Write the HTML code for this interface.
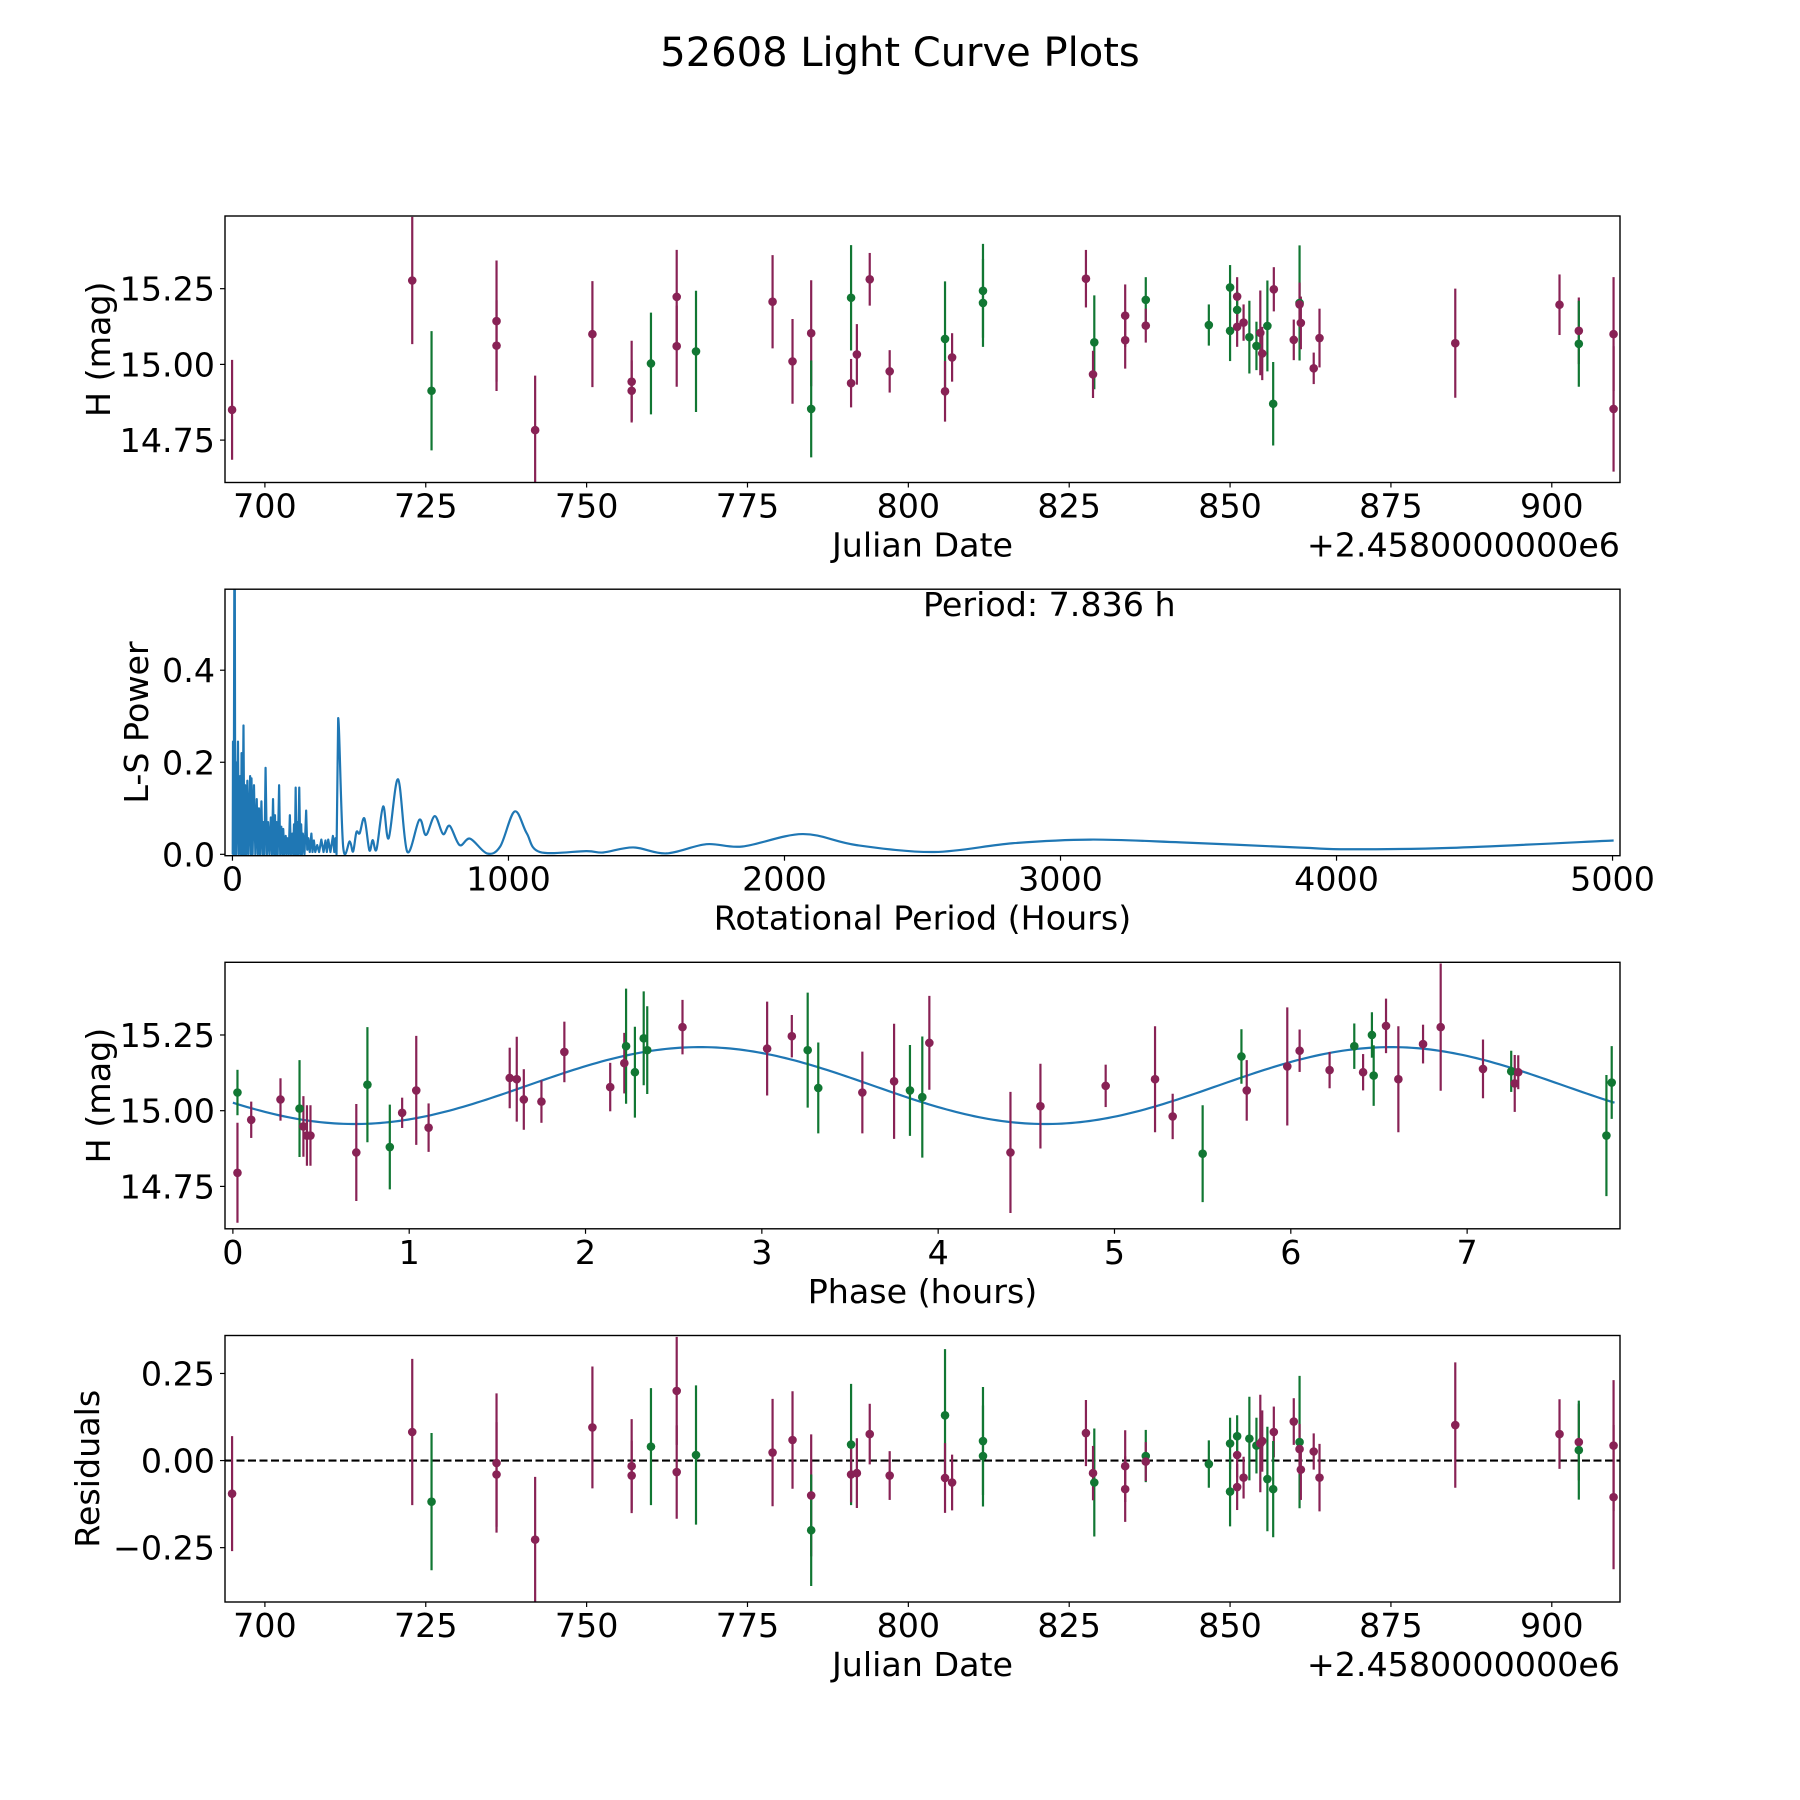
<!DOCTYPE html>
<html><head><meta charset="utf-8">
<style>
html,body{margin:0;padding:0;background:#fff;}
svg{display:block;}
text{font-family:"DejaVu Sans","Liberation Sans",sans-serif;fill:#000;}
</style></head>
<body>
<svg id="fig" xmlns="http://www.w3.org/2000/svg" width="1800" height="1800" viewBox="0 0 1800 1800">
<rect x="0" y="0" width="1800" height="1800" fill="#fff"/>
<text x="900" y="66" font-size="40" text-anchor="middle">52608 Light Curve Plots</text>
</svg>
<script>
// ---------- Panel 1: raw light curve ----------
const lcDates = [694.9,722.9,725.9,736,736,742,750.9,757,757,760,764,764,767,778.9,782,784.9,784.9,791.1,791.1,792,794,797.1,
805.7,805.7,806.8,811.6,811.6,827.6,828.9,828.7,833.7,833.7,836.9,836.9,846.7,850,850,851.1,851.1,851.1,852.1,853,854.1,854.7,855,855.8,856.8,856.7,859.9,860.8,860.8,861,863,863.9,885,901.2,904.2,904.2,909.6,909.6];
const lcMags = [14.85,15.277,14.913,15.143,15.062,14.783,15.1,14.943,14.913,15.003,15.223,15.06,15.043,15.207,15.01,15.103,14.853,15.22,14.938,15.033,15.281,14.977,
15.084,14.911,15.023,15.243,15.203,15.283,15.073,14.967,15.161,15.08,15.213,15.128,15.13,15.254,15.111,15.224,15.18,15.124,15.138,15.09,15.061,15.104,15.036,15.127,15.248,14.87,15.081,15.203,15.198,15.137,14.987,15.087,15.07,15.197,15.111,15.068,15.1,14.853];
const lcErrs = [0.165,0.21,0.197,0.2,0.15,0.18,0.175,0.135,0.1,0.168,0.155,0.134,0.2,0.154,0.14,0.175,0.16,0.174,0.08,0.1,0.087,0.07,
0.19,0.1,0.08,0.155,0.145,0.095,0.155,0.078,0.103,0.094,0.075,0.056,0.068,0.074,0.1,0.064,0.06,0.066,0.06,0.12,0.08,0.14,0.088,0.15,0.073,0.138,0.067,0.19,0.072,0.087,0.052,0.097,0.18,0.1,0.11,0.142,0.188,0.207];
const lcBands = ["p","p","g","p","p","p","p","p","p","g","p","p","g","p","p","p","g","g","p","p","p","p",
"g","p","p","g","g","p","g","p","p","p","g","p","g","g","g","p","g","p","p","g","g","p","p","g","p","g","p","g","p","p","p","p","p","p","p","g","p","p"];

// ---------- Panel 2: periodogram ----------
const lsPeriods = [1,2,3,5,7.836,10,12,14,17,20,
23,28,31,33,36,40,43,46,50,54,
58,64,67,69,73,78,83,88,92,96,
100,105,109,112,116,120,125,129,134,139,
143,147,151,154,157,160,164,169,173,177,
181,184,188,193,196,199,204,208,212,217,
220,223,226,229,232,235,238,242,246,249,
252,255,261,267,271,275,280,286,290,295,
300,307,314,322,330,337,342,347,355,364,
369,373,377,383,401,425,437,449,461,478,
496,508,522,546,566,600,633,677,701,733,
763,787,823,861,922,970,1022,1066,1114,1283,
1343,1452,1572,1717,1848,2065,2261,2543,2826,3109,
3435,3870,4043,4413,5004];
const lsPowers = [0.0,0.245,0.0,0.1,0.9,0.0,0.2,0.0,0.1,0.245,
0.0,0.17,0.0,0.22,0.0,0.28,0.0,0.15,0.0,0.16,
0.0,0.17,0.0,0.165,0.0,0.15,0.0,0.12,0.0,0.1,
0.0,0.115,0.0,0.07,0.0,0.188,0.0,0.07,0.0,0.08,
0.0,0.12,0.0,0.085,0.0,0.07,0.0,0.15,0.0,0.06,
0.0,0.055,0.0,0.04,0.0,0.035,0.0,0.085,0.0,0.045,
0.0,0.065,0.0,0.145,0.0,0.07,0.0,0.145,0.0,0.065,
0.0,0.045,0.0,0.095,0.01,0.035,0.005,0.045,0.005,0.03,
0.005,0.02,0.005,0.032,0.005,0.03,0.005,0.032,0.005,0.04,
0.005,0.035,0.0,0.296,0.017,0.028,0.006,0.048,0.046,0.078,
0.009,0.031,0.011,0.104,0.035,0.163,0.006,0.075,0.042,0.083,
0.044,0.062,0.02,0.034,0.002,0.017,0.093,0.046,0.005,0.007,
0.004,0.015,0.002,0.022,0.017,0.044,0.02,0.005,0.024,0.032,
0.026,0.0145,0.011,0.014,0.03];
const bestPeriodLabel = "Period: 7.836 h";

// ---------- Panel 3: phased light curve ----------
const phPhases = [0.026,0.026,0.104,0.27,0.378,0.40,0.42,0.44,0.70,0.763,0.89,0.96,1.04,1.11,1.57,1.61,1.65,1.75,1.88,2.14,
2.22,2.23,2.28,2.33,2.35,2.55,3.03,3.17,3.26,3.32,3.57,3.75,3.84,3.91,3.95,4.41,4.58,4.95,5.23,5.33,
5.5,5.72,5.75,5.98,6.05,6.22,6.36,6.41,6.46,6.47,6.54,6.61,6.75,6.85,7.09,7.25,7.27,7.29,7.79,7.82];
const phMags = [15.06,14.795,14.97,15.037,15.007,14.948,14.918,14.918,14.862,15.086,14.88,14.993,15.067,14.944,15.108,15.104,15.037,15.03,15.194,15.078,
15.157,15.213,15.127,15.239,15.2,15.276,15.205,15.246,15.2,15.075,15.06,15.097,15.067,15.045,15.224,14.862,15.015,15.082,15.104,14.981,
14.858,15.179,15.067,15.146,15.198,15.134,15.213,15.127,15.25,15.116,15.28,15.104,15.22,15.276,15.138,15.13,15.09,15.127,14.918,15.093];
const phErrs = [0.075,0.165,0.06,0.07,0.16,0.1,0.1,0.1,0.16,0.19,0.14,0.05,0.18,0.08,0.1,0.14,0.1,0.07,0.1,0.08,
0.1,0.19,0.15,0.155,0.145,0.09,0.155,0.07,0.19,0.15,0.135,0.19,0.15,0.2,0.155,0.2,0.14,0.07,0.175,0.075,
0.16,0.09,0.1,0.195,0.07,0.06,0.075,0.06,0.075,0.1,0.09,0.175,0.064,0.21,0.097,0.068,0.094,0.056,0.2,0.12];
const phBands = ["g","p","p","p","g","p","p","p","p","g","g","p","p","p","p","p","p","p","p","p",
"p","g","g","g","g","p","p","p","g","g","p","p","g","g","p","p","p","p","p","p",
"g","g","p","p","p","p","g","p","g","g","p","p","p","p","p","g","p","p","g","g"];
// fitted model: [mean, amplitude, phase of maximum, period, harmonics]
const modelParams = [15.083, 0.127, 2.65, 7.836, 2];

// ---------- Panel 4: residuals ----------
const resDates = lcDates.slice();
const resValues = [-0.095,0.082,-0.118,-0.007,-0.04,-0.227,0.095,-0.016,-0.043,0.04,0.2,-0.033,0.016,0.023,0.059,-0.1,-0.2,0.046,-0.04,-0.036,0.076,-0.043,
0.13,-0.05,-0.063,0.056,0.013,0.079,-0.063,-0.036,-0.016,-0.082,0.013,-0.003,-0.01,0.049,-0.089,0.016,0.07,-0.076,-0.049,0.063,0.043,0.049,0.056,-0.053,0.082,-0.082,0.112,0.053,0.033,-0.026,0.026,-0.049,0.102,0.076,0.053,0.03,0.043,-0.105];
const resErrs = lcErrs.slice();
const resBands = lcBands.slice();

// ---------- drawing ----------
const NS = "http://www.w3.org/2000/svg";
const svg = document.getElementById('fig');
const COLORS = {p:"#882255", g:"#117733"};
const L = 225, R = 1620, H = 266.5;
const TOPS = [216, 589.2, 962.3, 1335.5];
function mk(tag, attrs, parent){
  const e = document.createElementNS(NS, tag);
  for (const k in attrs) e.setAttribute(k, attrs[k]);
  (parent||svg).appendChild(e);
  return e;
}
function scale(d0,d1,r0,r1){ return v => r0 + (v-d0)/(d1-d0)*(r1-r0); }

function axesFrame(i, name){
  const g = mk('g', {});
  
  
  const cp = mk('clipPath', {id:'clip'+i}, g);
  mk('rect', {x:L, y:TOPS[i], width:R-L, height:H}, cp);
  const data = mk('g', {'clip-path':'url(#clip'+i+')'}, g);
  
  
  return {g, data};
}
function frame(g, i){
  const r = mk('rect', {x:L, y:TOPS[i], width:R-L, height:H, fill:'none', stroke:'#000', 'stroke-width':1.4}, g);
  
  
}
function xTicks(g, i, ticks, labels, sx){
  const yb = TOPS[i]+H;
  ticks.forEach((t,k)=>{
    const x = sx(t);
    mk('line', {x1:x, x2:x, y1:yb, y2:yb+5, stroke:'#000', 'stroke-width':1.2}, g);
    const tx = mk('text', {x:x, y:yb+35, 'font-size':33.3, 'text-anchor':'middle'}, g);
    tx.textContent = labels[k];
    
    
  });
}
function yTicks(g, i, ticks, labels, sy){
  ticks.forEach((t,k)=>{
    const y = sy(t);
    mk('line', {x1:L-5, x2:L, y1:y, y2:y, stroke:'#000', 'stroke-width':1.2}, g);
    const tx = mk('text', {x:L-10, y:y+12, 'font-size':33.3, 'text-anchor':'end'}, g);
    tx.textContent = labels[k];
    
    
  });
}
function xLabel(g, i, txt, name){
  const t = mk('text', {x:(L+R)/2, y:TOPS[i]+H+74, 'font-size':33.3, 'text-anchor':'middle'}, g);
  t.textContent = txt;
  
  
}
function yLabel(g, i, txt, x, name){
  const cy = TOPS[i]+H/2;
  const t = mk('text', {x:x, y:cy, 'font-size':33.3, 'text-anchor':'middle', transform:'rotate(-90 '+x+' '+cy+')'}, g);
  t.textContent = txt;
  
  
}
function offsetText(g, i){
  const t = mk('text', {x:R, y:TOPS[i]+H+74, 'font-size':33.3, 'text-anchor':'end'}, g);
  t.textContent = '+2.4580000000e6';
  
  
}
function errPoints(parent, xs, ys, es, bands, sx, sy){
  xs.forEach((xv,k)=>{
    const x = sx(xv), c = COLORS[bands[k]];
    const ln = mk('line', {x1:x, x2:x, y1:sy(ys[k]+es[k]), y2:sy(ys[k]-es[k]), stroke:c, 'stroke-width':2.2}, parent);
    
    
  });
  xs.forEach((xv,k)=>{
    const c = COLORS[bands[k]];
    const pt = mk('circle', {cx:sx(xv), cy:sy(ys[k]), r:4.3, fill:c}, parent);
    
    
  });
}

// Panel 1
(function(){
  const i=0, sx = scale(693.8, 910.6, L, R), sy = scale(15.49, 14.61, TOPS[i], TOPS[i]+H);
  const {g, data} = axesFrame(i, 'raw-light-curve-panel');
  errPoints(data, lcDates, lcMags, lcErrs, lcBands, sx, sy);
  frame(g, i);
  xTicks(g, i, [700,725,750,775,800,825,850,875,900], ['700','725','750','775','800','825','850','875','900'], sx);
  yTicks(g, i, [14.75,15.0,15.25], ['14.75','15.00','15.25'], sy);
  xLabel(g, i, 'Julian Date', 'x-axis-title');
  offsetText(g, i);
  yLabel(g, i, 'H (mag)', 110, 'y-axis-title');
})();

// Panel 2
(function(){
  const i=1, sx = scale(-27, 5027, L, R), sy = scale(0.576, -0.003, TOPS[i], TOPS[i]+H);
  const {g, data} = axesFrame(i, 'periodogram-panel');
  const pts = lsPeriods.map((p,k)=>[sx(p), sy(lsPowers[k])]);
  let d = 'M'+pts[0][0]+','+pts[0][1];
  for (let k=1;k<pts.length;k++){
    if (lsPeriods[k] <= 383){ d += ' L'+pts[k][0].toFixed(2)+','+pts[k][1].toFixed(2); }
    else {
      const p0 = pts[k-2]||pts[k-1], p1 = pts[k-1], p2 = pts[k], p3 = pts[k+1]||pts[k];
      const c1x = p1[0]+(p2[0]-p0[0])/6, c1y = p1[1]+(p2[1]-p0[1])/6;
      const c2x = p2[0]-(p3[0]-p1[0])/6, c2y = p2[1]-(p3[1]-p1[1])/6;
      d += ' C'+c1x.toFixed(2)+','+c1y.toFixed(2)+' '+c2x.toFixed(2)+','+c2y.toFixed(2)+' '+p2[0].toFixed(2)+','+p2[1].toFixed(2);
    }
  }
  const path = mk('path', {d:d, fill:'none', stroke:'#1f77b4', 'stroke-width':2.2, 'stroke-linejoin':'round'}, data);
  
  
  frame(g, i);
  xTicks(g, i, [0,1000,2000,3000,4000,5000], ['0','1000','2000','3000','4000','5000'], sx);
  yTicks(g, i, [0,0.2,0.4], ['0.0','0.2','0.4'], sy);
  xLabel(g, i, 'Rotational Period (Hours)', 'x-axis-title');
  yLabel(g, i, 'L-S Power', 148, 'y-axis-title');
  const t = mk('text', {x:923, y:616, 'font-size':33.3}, g);
  t.textContent = bestPeriodLabel;
  
  
})();

// Panel 3
(function(){
  const i=2, sx = scale(-0.0447, 7.867, L, R), sy = scale(15.49, 14.61, TOPS[i], TOPS[i]+H);
  const {g, data} = axesFrame(i, 'phased-light-curve-panel');
  const [mean, amp, pmax, per, harm] = modelParams;
  let d = '';
  for (let k=0;k<=300;k++){
    const p = per*k/300;
    const v = mean + amp*Math.cos(2*Math.PI*harm*(p-pmax)/per);
    d += (k?' L':'M') + sx(p).toFixed(2)+','+sy(v).toFixed(2);
  }
  const m = mk('path', {d:d, fill:'none', stroke:'#1f77b4', 'stroke-width':2.2}, data);
  
  
  errPoints(data, phPhases, phMags, phErrs, phBands, sx, sy);
  frame(g, i);
  xTicks(g, i, [0,1,2,3,4,5,6,7], ['0','1','2','3','4','5','6','7'], sx);
  yTicks(g, i, [14.75,15.0,15.25], ['14.75','15.00','15.25'], sy);
  xLabel(g, i, 'Phase (hours)', 'x-axis-title');
  yLabel(g, i, 'H (mag)', 110, 'y-axis-title');
})();

// Panel 4
(function(){
  const i=3, sx = scale(693.8, 910.6, L, R), sy = scale(0.359, -0.406, TOPS[i], TOPS[i]+H);
  const {g, data} = axesFrame(i, 'residuals-panel');
  const z = mk('line', {x1:L, x2:R, y1:sy(0), y2:sy(0), stroke:'#000', 'stroke-width':2.2, 'stroke-dasharray':'8,3.5'}, data);
  
  
  errPoints(data, resDates, resValues, resErrs, resBands, sx, sy);
  frame(g, i);
  xTicks(g, i, [700,725,750,775,800,825,850,875,900], ['700','725','750','775','800','825','850','875','900'], sx);
  yTicks(g, i, [-0.25,0,0.25], ['\u22120.25','0.00','0.25'], sy);
  xLabel(g, i, 'Julian Date', 'x-axis-title');
  offsetText(g, i);
  yLabel(g, i, 'Residuals', 99, 'y-axis-title');
})();
</script>
</body></html>
